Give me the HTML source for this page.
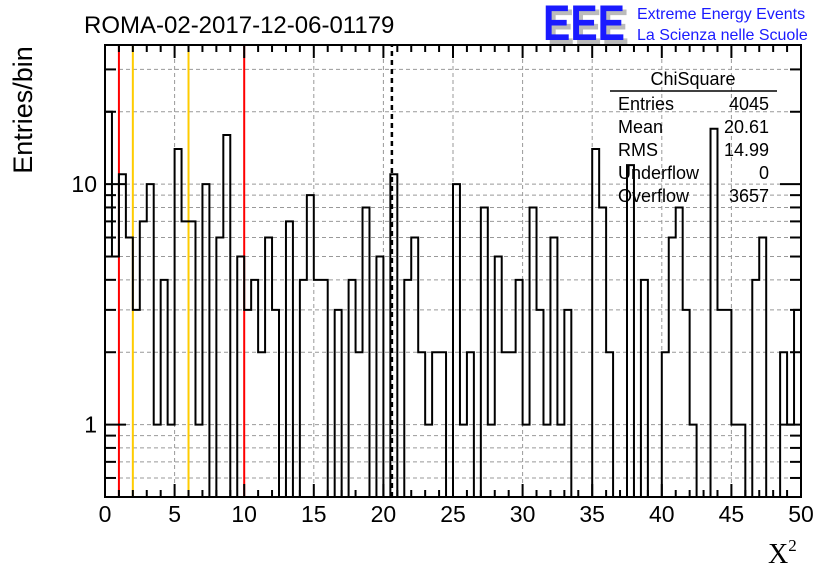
<!DOCTYPE html>
<html><head><meta charset="utf-8"><style>
html,body{margin:0;padding:0;background:#fff;}
svg{display:block;font-family:"Liberation Sans",sans-serif;}
</style></head><body>
<svg id="chart" width="836" height="572" viewBox="0 0 836 572" xmlns="http://www.w3.org/2000/svg">
<rect x="0" y="0" width="836" height="572" fill="#fff"/>
<g id="grid"></g>
<g id="marks"></g>
<path id="hist" fill="none" stroke="#000" stroke-width="2"/>
<g id="axes"></g>
<text x="84" y="33" font-size="24">ROMA-02-2017-12-06-01179</text>
<g>
<text x="547" y="44" font-size="50" font-weight="bold" fill="#bbb" textLength="82" lengthAdjust="spacingAndGlyphs">EEE</text>
<text x="543" y="40" font-size="50" font-weight="bold" fill="#1a1aff" textLength="82" lengthAdjust="spacingAndGlyphs">EEE</text>
<text x="637" y="19" font-size="16" fill="#1a1aff">Extreme Energy Events</text>
<text x="637" y="40" font-size="16" fill="#1a1aff">La Scienza nelle Scuole</text>
</g>
<text transform="translate(32,110) rotate(-90)" text-anchor="middle" font-size="27">Entries/bin</text>
<text x="768" y="563" font-size="28" font-family="Liberation Serif,serif">X<tspan font-size="17" dy="-12">2</tspan></text>
<g font-size="18">
<text x="693" y="85" text-anchor="middle">ChiSquare</text>
<line x1="610" y1="91" x2="777" y2="91" stroke="#000" stroke-width="1.5"/>
<text x="618" y="110">Entries</text><text x="769" y="110" text-anchor="end">4045</text>
<text x="618" y="133">Mean</text><text x="769" y="133" text-anchor="end">20.61</text>
<text x="618" y="156">RMS</text><text x="769" y="156" text-anchor="end">14.99</text>
<text x="618" y="179">Underflow</text><text x="769" y="179" text-anchor="end">0</text>
<text x="618" y="202">Overflow</text><text x="769" y="202" text-anchor="end">3657</text>
</g>
</svg>
<script>
const counts = [20,5,11,6,3,7,10,1,4,1,
14,7,7,1,10,0,6,16,0,5,
3,4,2,6,3,0,7,0,4,9,
4,4,0,3,0,4,2,8,0,5,
0,11,0,4,6,2,1,2,2,0,
10,1,2,0,8,1,5,2,2,4,
1,8,3,1,6,1,3,0,0,0,
14,8,2,0,0,12,0,4,0,0,
2,6,8,3,1,0,0,17,3,3,
1,1,0,4,6,0,0,2,1,3];
const binWidth = 0.5;
const xTickLabels = ["0","5","10","15","20","25","30","35","40","45","50"];
const yTickValues = [1,10];
const redLines = [1,10];
const orangeLines = [2,6];
const meanValue = 20.61;

const NS="http://www.w3.org/2000/svg";
const X0=105,X1=801,Y0=497,Y1=45;
const yMin=0.5, yMax=37.9;
function xs(v){return X0+(v/50)*(X1-X0);}
function ys(v){const lv=Math.log10(Math.max(v,yMin));return Y0-(lv-Math.log10(yMin))/(Math.log10(yMax)-Math.log10(yMin))*(Y0-Y1);}
function mk(t,a,p){const e=document.createElementNS(NS,t);for(const k in a)e.setAttribute(k,a[k]);p.appendChild(e);return e;}

const grid=document.getElementById('grid');
const minorY=[0.6,0.7,0.8,0.9,1,2,3,4,5,6,7,8,9,10,20,30];
minorY.forEach(v=>{const l=mk('line',{x1:X0,x2:X1,y1:ys(v),y2:ys(v),stroke:'#999','stroke-width':1,'stroke-dasharray':'4,3'},grid);

});
for(let i=1;i<10;i++){const l=mk('line',{x1:xs(i*5),x2:xs(i*5),y1:Y0,y2:Y1,stroke:'#999','stroke-width':1,'stroke-dasharray':'4,3'},grid);

}

const marks=document.getElementById('marks');
redLines.forEach(v=>{const l=mk('line',{x1:xs(v),x2:xs(v),y1:Y0,y2:Y1,stroke:'#f00','stroke-width':2},marks);

});
orangeLines.forEach(v=>{const l=mk('line',{x1:xs(v),x2:xs(v),y1:Y0,y2:Y1,stroke:'#fc0','stroke-width':2},marks);

});
const ml=mk('line',{x1:xs(meanValue),x2:xs(meanValue),y1:Y0,y2:Y1,stroke:'#000','stroke-width':2.5,'stroke-dasharray':'5,4'},marks);



let d='M'+xs(0)+','+Y0;
counts.forEach((c,i)=>{const y=c>0?ys(c):Y0;d+=' L'+xs(i*binWidth)+','+y+' L'+xs((i+1)*binWidth)+','+y;});
d+=' L'+xs(counts.length*binWidth)+','+Y0;
document.getElementById('hist').setAttribute('d',d);

const axes=document.getElementById('axes');
mk('rect',{x:X0,y:Y1,width:X1-X0,height:Y0-Y1,fill:'none',stroke:'#000','stroke-width':2},axes);
for(let i=0;i<=50;i++){const L=i%5===0?13:7;
mk('line',{x1:xs(i),x2:xs(i),y1:Y0,y2:Y0-L,stroke:'#000','stroke-width':2},axes);
mk('line',{x1:xs(i),x2:xs(i),y1:Y1,y2:Y1+L,stroke:'#000','stroke-width':2},axes);}
xTickLabels.forEach(s=>{const t=mk('text',{x:xs(+s),y:522,'text-anchor':'middle','font-size':23},axes);t.textContent=s;

});
minorY.forEach(v=>{const L=(v===1||v===10)?21:11;
mk('line',{x1:X0,x2:X0+L,y1:ys(v),y2:ys(v),stroke:'#000','stroke-width':2},axes);
mk('line',{x1:X1,x2:X1-L,y1:ys(v),y2:ys(v),stroke:'#000','stroke-width':2},axes);});
yTickValues.forEach(v=>{const t=mk('text',{x:97,y:ys(v)+8,'text-anchor':'end','font-size':23},axes);t.textContent=String(v);

});
</script>
</body></html>
